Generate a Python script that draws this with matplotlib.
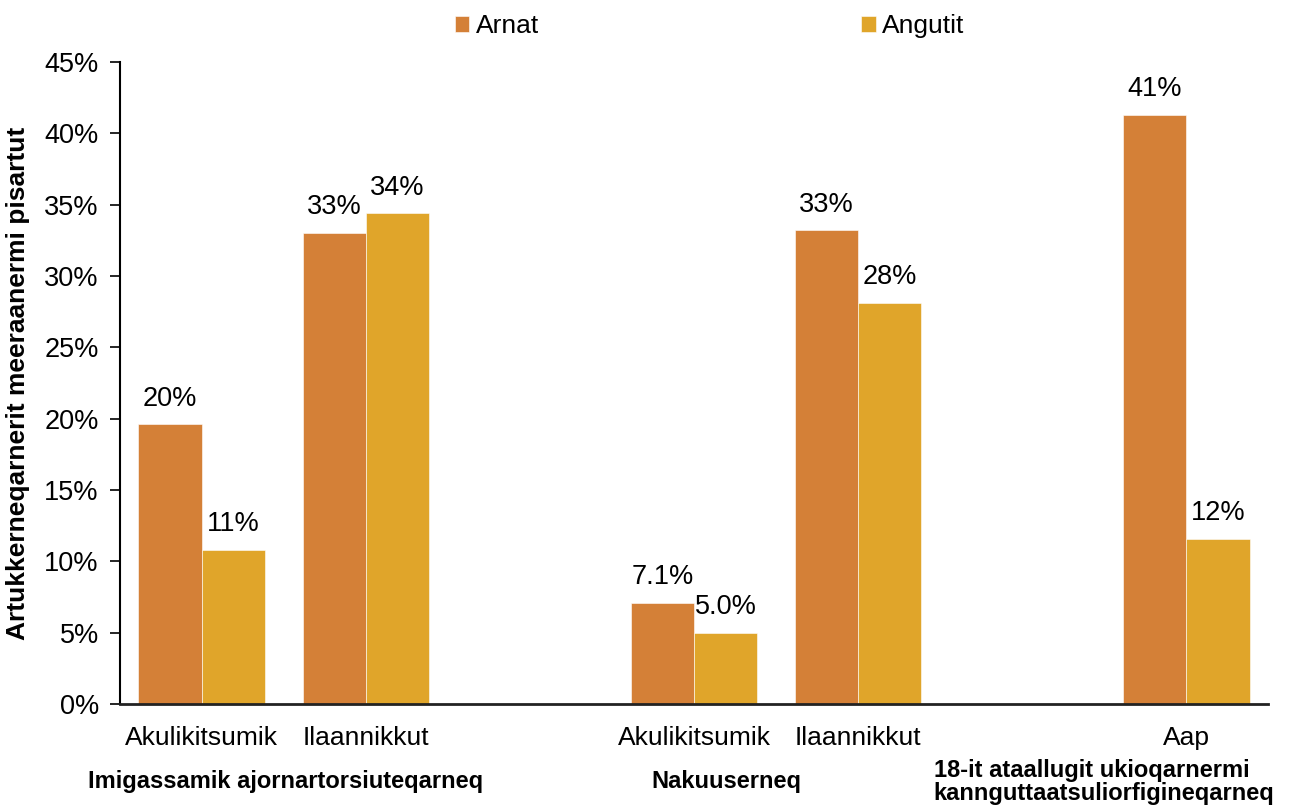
import numpy as np
import matplotlib.pyplot as plt

plt.rcParams['font.family'] = ['Liberation Sans', 'DejaVu Sans']

# slots on the x axis, empty strings are gaps between groups
categories = ['Akulikitsumik', 'Ilaannikkut', '', '', 'Akulikitsumik', 'Ilaannikkut', '', '', 'Aap']
slot_pos = [0, 1, 3, 4, 6]
arnat = [19.6, 33.0, 7.1, 33.2, 41.3]
angutit = [10.8, 34.4, 5.0, 28.1, 11.6]
groups = ['Imigassamik ajornartorsiuteqarneq', 'Nakuuserneq',
          '18-it ataallugit ukioqarnermi\nkannguttaatsuliorfigineqarneq']
series = ['Arnat', 'Angutit']
colors = ['#D48037', '#E0A52A']


def fmt(v):
    return f'{v:.1f}%' if v < 10 else f'{v:.0f}%'


fig = plt.figure(figsize=(12.93, 8.07), dpi=100)
ax = fig.add_axes([0.0925, 0.1276, 0.8885, 0.7954])

x = np.array(slot_pos)
w = 0.385
for vals, off, col, name in [(arnat, -w / 2, colors[0], series[0]),
                             (angutit, w / 2, colors[1], series[1])]:
    bars = ax.bar(x + off, vals, width=w, color=col, label=name,
                  edgecolor='white', linewidth=0.4)
    for b, v in zip(bars, vals):
        ax.text(b.get_x() + b.get_width() / 2, v + 0.9, fmt(v),
                ha='center', va='bottom', fontsize=19.5)

ax.set_xlim(-0.5, 6.5)
ax.set_ylim(0, 45)
ax.set_yticks(np.arange(0, 46, 5))
ax.set_yticklabels([f'{t}%' for t in range(0, 46, 5)], fontsize=19.5)
ax.set_xticks(slot_pos)
ax.set_xticklabels([c for c in categories if c], fontsize=19)
ax.tick_params(axis='x', length=0, pad=16)
ax.tick_params(axis='y', length=7, width=1.2, direction='out', pad=8)

for s in ['top', 'right']:
    ax.spines[s].set_visible(False)
ax.spines['left'].set_linewidth(1.5)
ax.spines['bottom'].set_linewidth(2)
ax.spines['bottom'].set_color('#222222')

ax.set_ylabel('Artukkerneqarnerit meeraanermi pisartut', fontsize=19,
              fontweight='bold', labelpad=10)

# group captions under the category labels
ax.text(0.51, -0.12, groups[0], transform=ax.get_xaxis_transform(),
        ha='center', va='center', fontsize=17, fontweight='bold')
ax.text(3.2, -0.12, groups[1], transform=ax.get_xaxis_transform(),
        ha='center', va='center', fontsize=17, fontweight='bold')
ax.text(4.46, -0.121, groups[2], transform=ax.get_xaxis_transform(),
        ha='left', va='center', fontsize=17, fontweight='bold',
        multialignment='left', linespacing=1.0)

fig.legend(loc='upper center', bbox_to_anchor=(0.549, 1.012), ncol=2,
           frameon=False, fontsize=19, handlelength=0.55, handleheight=0.55,
           handletextpad=0.25, columnspacing=12.2)

fig.savefig('out.png', dpi=100)
